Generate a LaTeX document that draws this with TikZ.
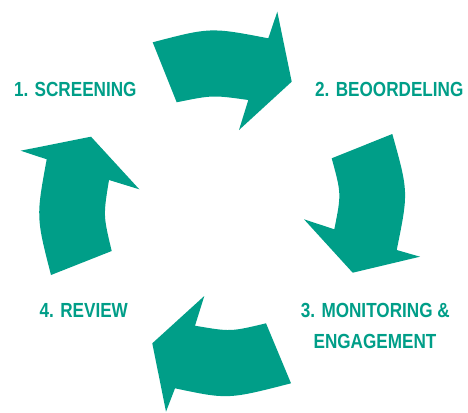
\documentclass[tikz,border=0pt]{standalone}
\usepackage{fontspec}
\setmainfont{Liberation Sans}[FakeStretch=0.84]
\definecolor{teal1}{RGB}{0,158,136}
\begin{document}
\begin{tikzpicture}[x=1pt,y=-1pt,
  cyclearrow/.style={fill=teal1,draw=none},
  steplabel/.style={text=teal1,font=\fontsize{20.4}{24}\selectfont\bfseries,anchor=base,inner sep=0pt}]
\useasboundingbox (0,0) rectangle (468,412);
% arrow 1 (top)
\fill[cyclearrow] (152.7,42.3) .. controls (210.5,27.2) .. (268.3,38.3)
  -- (277.3,11.7) -- (291.7,81.7) -- (239,130) -- (248.3,100)
  .. controls (212.5,95) .. (176.7,102.3) -- cycle;
% arrow 2 (right)
\fill[cyclearrow] (331.7,158.3) -- (392.3,134) .. controls (408.5,192) .. (396.7,250)
  -- (420,256.7) -- (352.7,272.7) -- (304,219.3) -- (334.3,229.3)
  .. controls (341.4,193.8) .. (331.7,158.3) -- cycle;
% arrow 3 (bottom)
\fill[cyclearrow] (266,323.3) -- (291,383.3) .. controls (228,399.5) .. (175,388.3)
  -- (166,411.7) -- (152.3,343.3) -- (204.3,296) -- (195,325.7)
  .. controls (230.5,331.8) .. (266,323.3) -- cycle;
% arrow 4 (left)
\fill[cyclearrow] (51,275) -- (111.7,251) .. controls (103.2,215.5) .. (109,180)
  -- (139.3,189.3) -- (91,136.7) -- (20.7,150.7) -- (46.7,159.3)
  .. controls (36.1,217) .. (51,275) -- cycle;
% labels
\node[steplabel] (s1) at (75.3,96.7) {1. SCREENING};
\node[steplabel] (s2) at (389.3,96.7) {2. BEOORDELING};
\node[steplabel] (s3a) at (375.3,317.3) {3. MONITORING \&};
\node[steplabel] (s3b) at (375,348.3) {ENGAGEMENT};
\node[steplabel] (s4) at (83.8,317.3) {4. REVIEW};
\end{tikzpicture}
\end{document}
